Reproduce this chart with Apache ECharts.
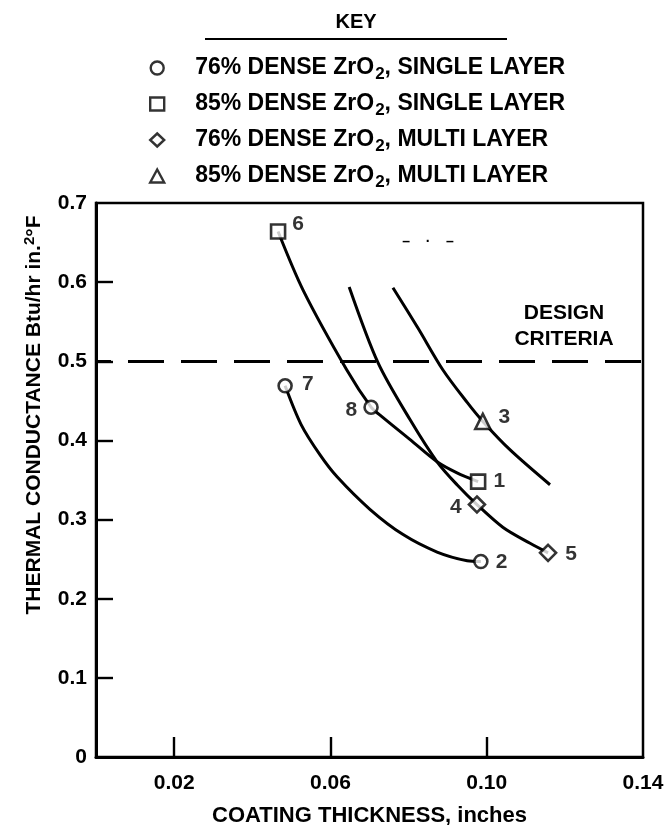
<!DOCTYPE html>
<html><head><meta charset="utf-8">
<script src="https://cdn.jsdelivr.net/npm/echarts@6/dist/echarts.min.js"></script>
<style>html,body{margin:0;padding:0;background:#fff}#c{width:665px;height:825px}</style>
</head><body><div id="c"></div>
<script>
// ---- data ----
const keyNames = ['76% DENSE ZrO2, SINGLE LAYER', '85% DENSE ZrO2, SINGLE LAYER', '76% DENSE ZrO2, MULTI LAYER', '85% DENSE ZrO2, MULTI LAYER'];
const keySymbols = ['circle', 'rect', 'diamond', 'triangle'];
// specimen points: [thickness in, conductance, specimen no.]
const pts76Single = [[0.0484, 0.469, '7'], [0.0704, 0.442, '8'], [0.0985, 0.247, '2']];
const pts85Single = [[0.0466, 0.664, '6'], [0.0978, 0.348, '1']];
const pts76Multi = [[0.0975, 0.319, '4'], [0.1157, 0.258, '5']];
const pts85Multi = [[0.0990, 0.424, '3']];
// faired curves
const curve6to1 = [[0.0466, 0.664], [0.0530, 0.590], [0.0642, 0.489], [0.0704, 0.442], [0.0727, 0.432], [0.0804, 0.401], [0.0873, 0.373], [0.0924, 0.359], [0.0978, 0.348]];
const curve7to2 = [[0.0484, 0.469], [0.0525, 0.420], [0.0573, 0.382], [0.0617, 0.354], [0.0701, 0.313], [0.0786, 0.281], [0.0873, 0.259], [0.0950, 0.248], [0.0985, 0.247]];
const curveTo5 = [[0.0648, 0.594], [0.0722, 0.498], [0.0804, 0.426], [0.0873, 0.373], [0.0924, 0.344], [0.0975, 0.319], [0.1042, 0.290], [0.1111, 0.270], [0.1157, 0.258]];
const curveThru3 = [[0.0760, 0.593], [0.0824, 0.542], [0.0888, 0.489], [0.0950, 0.448], [0.0990, 0.424], [0.1060, 0.388], [0.1162, 0.344]];
const designCriteria = 0.5;
const xTickValues = [0.02, 0.06, 0.10, 0.14];
const xTickLabels = ['0.02', '0.06', '0.10', '0.14'];
const xTickMarks = [0.02, 0.06, 0.10];
const yTickValues = [0, 0.1, 0.2, 0.3, 0.4, 0.5, 0.6, 0.7];
const yTickLabels = ['0', '0.1', '0.2', '0.3', '0.4', '0.5', '0.6', '0.7'];
const yTickMarks = [0.1, 0.2, 0.3, 0.4, 0.5, 0.6];

// ---- styling ----
const FONT = 'Liberation Sans, Arial, sans-serif';
const labelSide = { '1': 'right', '2': 'right', '3': 'right', '4': 'left', '5': 'right', '6': 'right', '7': 'right', '8': 'left' };
const labelShift = { '1': [1, 0], '2': [1, 1], '3': [1, -4], '4': [0, 3], '5': [2, 1], '6': [0, -7], '7': [3, -2], '8': [0, 3] };
const symSize = { circle: 13, rect: 14, diamond: 16, triangle: 15 };

function lookup(vals, labels) {
  return v => { const i = vals.findIndex(t => Math.abs(t - v) < 1e-9); return i >= 0 ? labels[i] : ''; };
}
function pointSeries(name, sym, pts) {
  return {
    type: 'scatter', name: name, symbol: sym, symbolSize: symSize[sym], z: 5,
    itemStyle: { color: '#fff', borderColor: '#000', borderWidth: 2.6 },
    data: pts.map(p => ({
      value: [p[0], p[1]], name: p[2],
      label: { position: labelSide[p[2]], offset: labelShift[p[2]] }
    })),
    label: { show: true, formatter: '{b}', color: '#000', fontFamily: FONT, fontWeight: 'bold', fontSize: 21, distance: 6 }
  };
}
function curveSeries(name, d) {
  return { type: 'line', name: name, data: d, smooth: 0.3, showSymbol: false, symbol: 'none', z: 3,
    lineStyle: { color: '#000', width: 3 }, silent: true };
}

const chart = echarts.init(document.getElementById('c'), null, { renderer: 'canvas' });
chart.setOption({
  animation: false,
  backgroundColor: '#fff',
  grid: { left: 96, right: 22, top: 203, bottom: 68, show: true, borderColor: '#000', borderWidth: 2.5,
    containLabel: false, outerBoundsMode: 'none' },
  legend: {
    orient: 'vertical', left: 144, top: 51, itemWidth: 14, itemHeight: 13, itemGap: 9.5,
    selectedMode: false,
    data: keyNames.map((n, i) => ({ name: n, icon: keySymbols[i], itemStyle: { color: '#fff', borderColor: '#000', borderWidth: 2.4 } })),
    formatter: n => n.replace('ZrO2', 'ZrO{sub|2}'),
    textStyle: {
      fontFamily: FONT, fontWeight: 'bold', fontSize: 23, color: '#000', padding: [0, 0, 0, 26], lineHeight: 24,
      rich: { sub: { fontFamily: FONT, fontWeight: 'bold', fontSize: 17, color: '#000', padding: [12, 0, 0, 1] } }
    }
  },
  xAxis: {
    type: 'value', min: 0, max: 0.14,
    axisLine: { show: true, onZero: false, lineStyle: { color: '#000', width: 3 } },
    axisTick: { show: true, inside: true, length: 20, customValues: xTickMarks, lineStyle: { color: '#000', width: 2.4 } },
    axisLabel: { customValues: xTickValues, formatter: lookup(xTickValues, xTickLabels), margin: 16,
      color: '#000', fontFamily: FONT, fontWeight: 'bold', fontSize: 21 },
    splitLine: { show: false },
    name: 'COATING THICKNESS, inches', nameLocation: 'middle', nameGap: 48,
    nameTextStyle: { color: '#000', fontFamily: FONT, fontWeight: 'bold', fontSize: 22 }
  },
  yAxis: {
    type: 'value', min: 0, max: 0.7,
    axisLine: { show: true, onZero: false, lineStyle: { color: '#000', width: 3 } },
    axisTick: { show: true, inside: true, length: 17, customValues: yTickMarks, lineStyle: { color: '#000', width: 2.4 } },
    axisLabel: { customValues: yTickValues, formatter: lookup(yTickValues, yTickLabels), margin: 9,
      color: '#000', fontFamily: FONT, fontWeight: 'bold', fontSize: 21 },
    splitLine: { show: false },
    name: 'THERMAL CONDUCTANCE Btu/hr in.{sup|2}°F', nameLocation: 'middle', nameGap: 49,
    nameTextStyle: { color: '#000', fontFamily: FONT, fontWeight: 'bold', fontSize: 21, padding: [0, 0, 0, 130],
      rich: { sup: { fontFamily: FONT, fontWeight: 'bold', fontSize: 15, color: '#000', padding: [0, 0, 10, 0] } } }
  },
  graphic: [
    { type: 'text', x: 356, y: 12, style: { text: 'KEY', align: 'center', fontFamily: FONT, fontWeight: 'bold', fontSize: 20, fill: '#000' } },
    { type: 'line', shape: { x1: 205, y1: 39, x2: 507, y2: 39 }, style: { stroke: '#000', lineWidth: 2.2 } },
    { type: 'text', x: 564, y: 300, style: { text: 'DESIGN\nCRITERIA', align: 'center', fontFamily: FONT, fontWeight: 'bold', fontSize: 21, lineHeight: 26, fill: '#000' } },
    { type: 'text', x: 428, y: 235, style: { text: '–    ·    –', align: 'center', fontFamily: FONT, fontWeight: 'bold', fontSize: 14, fill: '#000' } }
  ],
  series: [
    pointSeries(keyNames[0], 'circle', pts76Single),
    pointSeries(keyNames[1], 'rect', pts85Single),
    pointSeries(keyNames[2], 'diamond', pts76Multi),
    pointSeries(keyNames[3], 'triangle', pts85Multi),
    curveSeries('c1', curve6to1),
    curveSeries('c2', curve7to2),
    curveSeries('c3', curveTo5),
    curveSeries('c4', curveThru3),
    {
      type: 'line', name: 'design', data: [], silent: true,
      markLine: { symbol: 'none', silent: true, label: { show: false },
        lineStyle: { color: '#000', width: 2.8, type: [36, 17], dashOffset: 21 },
        data: [{ yAxis: designCriteria }] }
    }
  ]
});
</script></body></html>
